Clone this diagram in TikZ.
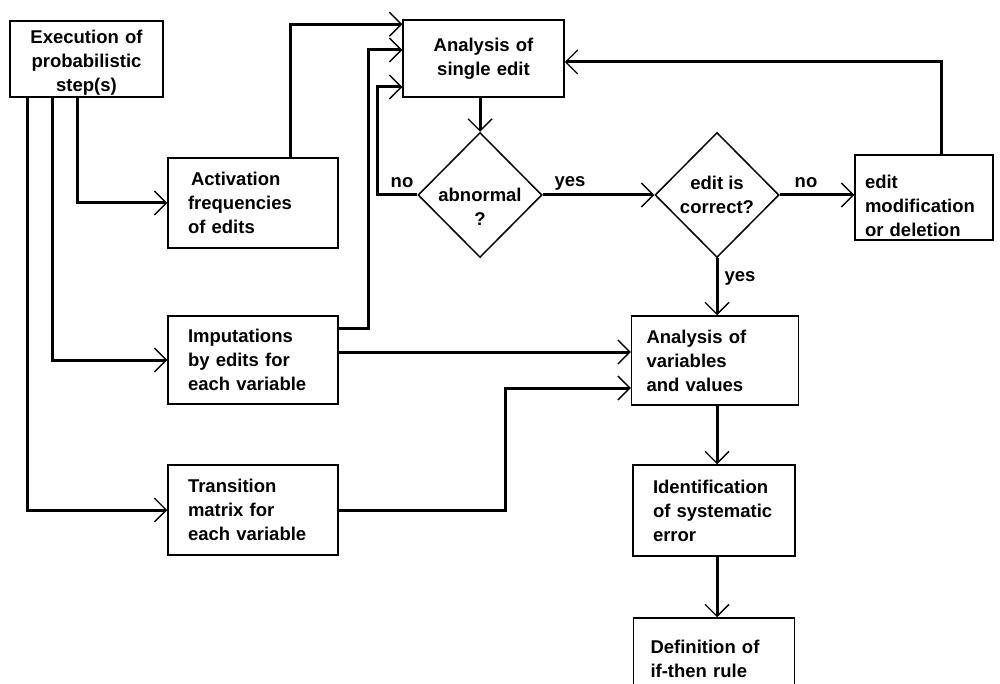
\documentclass[tikz,border=0pt]{standalone}
\usepackage{fontspec}
\setmainfont{Liberation Sans}
\usetikzlibrary{arrows.meta,shapes.geometric}
\begin{document}
\begin{tikzpicture}[x=1pt,y=-1pt,
  every node/.style={font=\bfseries\fontsize{18.5}{24}\selectfont},
  cbox/.style={draw, line width=1.5pt, align=center, inner ysep=0pt},
  lbox/.style={draw, line width=1.5pt, align=left, inner ysep=0pt},
  dec/.style={diamond, draw, line width=1.5pt, minimum width=124pt, minimum height=125pt, inner sep=0pt},
  arr/.style={line width=3pt, -{Straight Barb[length=12pt,width=24pt,line width'=1.4pt]}}
]
\useasboundingbox (0,0) rectangle (1000,684);
\clip (0,0) rectangle (1000,684);

% boxes (a tall strut on the first line pushes the text block lower)
\node[cbox, text width=140pt, inner xsep=6.5pt, minimum height=76pt] (exec) at (86.5,59) {\rule{0pt}{21pt}Execution of\\probabilistic\\step(s)};
\node[lbox, text width=130pt, inner xsep=20pt, minimum height=90pt] (act) at (253,203) {\hspace{3pt}Activation\\frequencies\\of edits};
\node[lbox, text width=130pt, inner xsep=20pt, minimum height=88pt] (imp) at (253,360) {Imputations\\by edits for\\each variable};
\node[lbox, text width=130pt, inner xsep=20pt, minimum height=90pt] (trans) at (253,510) {Transition\\matrix for\\each variable};
\node[cbox, text width=149pt, inner xsep=6pt, minimum height=77pt] (ase) at (483.5,58.5) {Analysis of\\single edit};
\node[dec] (d1) at (480,195) {};
\node[align=center] (d1t) at (480,207) {abnormal\\?};
\node[dec] (d2) at (717,195) {};
\node[align=center] (d2t) at (717,195) {edit is\\correct?};
\node[lbox, text width=118pt, inner xsep=10pt, minimum height=85pt] (edit) at (924,197.5) {\rule{0pt}{30pt}edit\\modification\\or deletion};
\node[lbox, text width=137pt, inner xsep=15pt, minimum height=89pt] (avar) at (715,360.5) {Analysis of\\variables\\and values};
\node[lbox, text width=122pt, inner xsep=20pt, minimum height=91pt] (ident) at (714,510.5) {Identification\\of systematic\\error};
\node[lbox, text width=127pt, inner xsep=17pt, minimum height=82pt] (defn) at (714,659) {Definition of\\if-then rule};

% branch labels
\node (lno1) at (402,183) {no};
\node (lyes1) at (570,183) {yes};
\node (lno2) at (806,183) {no};
\node (lyes2) at (740,278) {yes};

% connectors
\draw[arr] ([xshift=-9.5pt]exec.south) |- (act.west);
\draw[arr] ([xshift=-34.5pt]exec.south) |- (imp.west);
\draw[arr] ([xshift=-59.5pt]exec.south) |- (trans.west);
\draw[arr] ([xshift=37pt]act.north) |- ([yshift=-5pt]ase.north west);
\draw[arr] ([yshift=32pt]imp.east) -- ++(30,0) |- ([yshift=8.5pt]ase.west);
\draw[arr] (d1.west) -- ++(-40,0) |- ([yshift=-28.5pt]ase.west);
\draw[arr] (ase.south -| d1.north) -- (d1.north);
\draw[arr] (d1.east) -- (d2.west);
\draw[arr] (d2.east) -- (d2.east -| edit.west);
\draw[arr] ([xshift=17pt]edit.north) |- ([yshift=-3.5pt]ase.east);
\draw[arr] (d2.south) -- (avar.north -| d2.south);
\draw[arr] ([yshift=8pt]imp.east) -- ([yshift=8pt]imp.east -| avar.west);
\draw[arr] (trans.east) -- ++(167,0) |- ([yshift=-27.5pt]avar.west);
\draw[arr] (avar.south -| d2.south) -- (ident.north -| d2.south);
\draw[arr] (ident.south -| d2.south) -- (defn.north -| d2.south);
\end{tikzpicture}
\end{document}
